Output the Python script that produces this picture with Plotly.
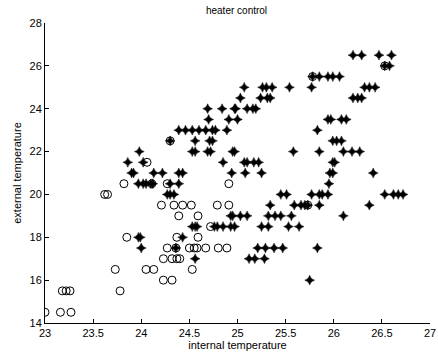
import plotly.graph_objects as go

# Circles (class "off")
circle_x = [23.0, 23.16, 23.27, 23.18, 23.22, 23.26, 23.78, 23.73, 24.05, 24.13,
            24.23, 24.32, 24.53, 24.23, 24.32, 24.37, 24.4, 23.85, 24.37, 24.59,
            24.27, 24.36, 24.5, 24.55, 24.58, 24.67, 24.8, 24.89, 24.39, 24.59,
            24.21, 24.34, 24.43, 24.52, 24.79, 24.91, 23.82, 24.27, 24.91, 23.62,
            23.65, 24.06, 24.11, 24.72, 24.3, 25.73, 25.78, 26.53]
circle_y = [14.5, 14.5, 14.5, 15.5, 15.5, 15.5, 15.5, 16.5, 16.5, 16.5,
            16.0, 16.0, 16.5, 17.0, 17.0, 17.0, 17.0, 18.0, 18.0, 18.0,
            17.5, 17.5, 17.5, 17.5, 17.5, 17.5, 17.5, 17.5, 19.0, 19.0,
            19.5, 19.5, 19.5, 19.5, 19.5, 19.5, 20.5, 20.5, 20.5, 20.0,
            20.0, 21.5, 20.5, 18.5, 22.5, 19.5, 25.5, 26.0]

# Stars (class "on")
star_x = [26.2, 26.29, 26.47, 26.6,
          26.53, 26.58,
          25.78, 25.85, 25.94, 25.99, 26.06,
          25.07, 25.26, 25.3, 25.36, 25.54, 25.77, 26.32, 26.37, 26.43,
          25.03, 25.24, 25.31, 25.34, 26.2, 26.25, 26.29,
          24.69, 24.84, 24.97, 24.98, 25.1, 25.16, 25.19,
          24.7, 24.91, 25.0, 25.94, 25.97, 26.08, 26.13,
          24.39, 24.46, 24.53, 24.6, 24.67, 24.74, 24.77, 24.89, 25.83,
          24.3, 24.56, 24.71, 24.74, 25.99, 26.03, 26.08,
          23.98, 24.53, 24.56, 24.69, 24.72, 24.95, 24.97, 25.58, 25.85, 26.1, 26.19, 26.27,
          23.86, 24.02, 24.85, 25.07, 25.1, 25.17, 25.22, 25.99, 26.01,
          23.9, 23.92, 24.13, 24.22, 24.39, 24.43, 24.94, 25.08, 25.25, 25.96, 25.99, 26.41,
          23.97, 24.02, 24.05, 24.1, 24.12, 24.3, 24.39, 25.95,
          24.27, 24.3, 24.34, 25.45, 25.51, 25.77, 25.85, 25.88, 25.94, 26.53, 26.62, 26.67, 26.72,
          25.34, 25.59, 25.66, 25.7, 25.73, 25.85, 26.37,
          24.93, 24.95, 25.03, 25.1, 25.32, 25.39, 25.45, 25.56, 26.1,
          24.53, 24.56, 24.58, 24.76, 24.79, 24.85, 24.93, 24.97, 25.25, 25.32, 25.53, 25.64,
          23.97, 23.99, 24.43,
          24.0, 24.36, 25.21, 25.29, 25.38, 25.47, 25.83,
          24.56, 25.12, 25.18, 25.28,
          25.75]
star_y = [26.5] * 4 + [26.0] * 2 + [25.5] * 5 + [25.0] * 9 + [24.5] * 7 + \
         [24.0] * 7 + [23.5] * 7 + [23.0] * 9 + [22.5] * 7 + [22.0] * 12 + \
         [21.5] * 9 + [21.0] * 12 + [20.5] * 8 + [20.0] * 13 + [19.5] * 7 + \
         [19.0] * 9 + [18.5] * 12 + [18.0] * 3 + [17.5] * 7 + [17.0] * 4 + [16.0] * 1

x_ticks = [23, 23.5, 24, 24.5, 25, 25.5, 26, 26.5, 27]
y_ticks = [14, 16, 18, 20, 22, 24, 26, 28]

fig = go.Figure()
fig.add_trace(go.Scatter(
    x=circle_x, y=circle_y, mode="markers",
    marker=dict(symbol="circle-open", size=8, color="black", line=dict(width=1, color="black")),
    showlegend=False))
fig.add_trace(go.Scatter(
    x=star_x, y=star_y, mode="markers",
    marker=dict(symbol="star-diamond", size=7, color="black", line=dict(width=0.5, color="black")),
    showlegend=False))

fig.update_layout(
    width=438, height=358,
    margin=dict(l=45, r=8, t=23, b=35),
    paper_bgcolor="white", plot_bgcolor="white",
    font=dict(family="Liberation Sans, Arial, sans-serif", color="black", size=11),
    title=dict(text="heater control", x=0.54, xanchor="center", y=0.97, yanchor="middle",
               font=dict(size=10)),
)
fig.update_xaxes(
    range=[23, 27], tickvals=x_ticks, ticktext=[str(v) for v in x_ticks],
    showgrid=False, zeroline=False, showline=True, linecolor="black", linewidth=1,
    ticks="inside", ticklen=4, tickcolor="black", automargin=False,
    title=dict(text="internal temperature", font=dict(size=11), standoff=3),
)
fig.update_yaxes(
    range=[14, 28], tickvals=y_ticks, ticktext=[str(v) for v in y_ticks],
    showgrid=False, zeroline=False, showline=True, linecolor="black", linewidth=1,
    ticks="inside", ticklen=4, tickcolor="black", automargin=False,
    title=dict(text="external temperature", font=dict(size=11), standoff=5),
)

fig.write_html("out.html", config={"displayModeBar": False},
               post_script="document.body.style.margin='0';document.body.style.overflow='hidden';")
